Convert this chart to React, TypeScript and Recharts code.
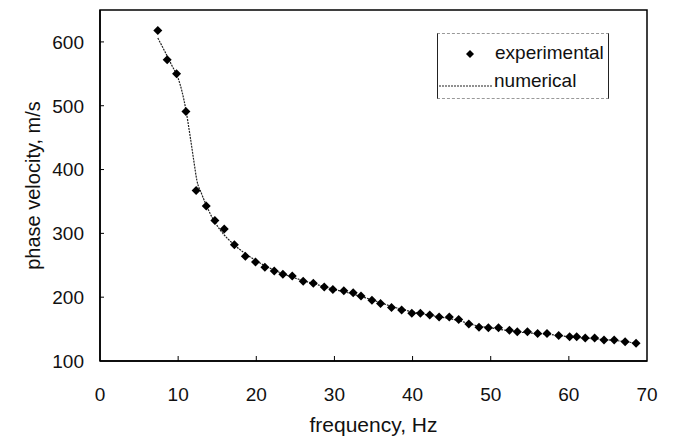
import React from "react";
import {
    ComposedChart,
    Scatter,
    Line,
    XAxis,
    YAxis,
    ReferenceArea,
} from "recharts";

// experimental points
const expFreq = [
    7.4, 8.6, 9.8, 11.0, 12.3, 13.6, 14.7, 15.9, 17.2, 18.6,
    19.9, 21.1, 22.3, 23.4, 24.6, 26.0, 27.3, 28.7, 29.8, 31.2,
    32.4, 33.4, 34.8, 35.9, 37.3, 38.6, 39.9, 41.0, 42.2, 43.4,
    44.7, 45.9, 47.2, 48.5, 49.7, 51.0, 52.4, 53.4, 54.7, 56.0,
    57.2, 58.7, 60.1, 61.0, 62.1, 63.3, 64.5, 65.8, 67.2, 68.6,
];
const expVel = [
    618, 572, 550, 491, 367, 343, 320, 307, 282, 264,
    255, 247, 241, 236, 233, 225, 222, 216, 212, 210,
    207, 202, 195, 190, 184, 180, 175, 175, 172, 169,
    169, 165, 158, 153, 152, 152, 148, 146, 146, 143,
    143, 140, 138, 138, 136, 136, 133, 133, 130, 128,
];

// numerical curve
const numFreq = [
    7.4, 8.3, 9.2, 10.0, 10.5, 11.0, 11.5, 12.0, 12.4, 13.0,
    13.5, 14.3, 15.4, 17.0, 18.4, 20, 22, 24, 26, 28,
    30, 32, 34, 36, 38, 40, 42, 44, 46, 48,
    50, 52, 54, 56, 58, 60, 62, 64, 66, 68.6,
];
const numVel = [
    606, 585, 563, 543, 522, 493, 455, 414, 383, 362,
    347, 326, 305, 284, 270, 257, 244, 234, 226, 219,
    212, 206, 199, 191, 183, 177, 172, 168, 163, 156,
    152, 148, 145, 143, 141, 138, 136, 134, 132, 128,
];

const xTicks = [0, 10, 20, 30, 40, 50, 60, 70];
const yTicks = [100, 200, 300, 400, 500, 600];

const FONT = '"Liberation Sans", Arial, Helvetica, sans-serif';

const expData = expFreq.map((f, i) => ({ f, v: expVel[i] }));
const numData = numFreq.map((f, i) => ({ f, v: numVel[i] }));

const Diamond = (props: any) => {
    const { cx, cy } = props;
    const r = 4.5;
    return (
        <polygon
            points={`${cx},${cy - r} ${cx + r},${cy} ${cx},${cy + r} ${cx - r},${cy}`}
            fill="#000"
        />
    );
};

const X_MARGIN = 33;
const Y_MARGIN = 16;

const XTick = (props: any) => {
    const { x, y, payload } = props;
    const axisY = y - X_MARGIN;
    const edge = payload.value === 0 || payload.value === 70;
    return (
        <g>
            {!edge && <line x1={x} x2={x} y1={axisY} y2={axisY - 5} stroke="#000" />}
            <text x={x} y={y} dy="0.36em" textAnchor="middle" fontSize={19} fontFamily={FONT} fill="#111">
                {payload.value}
            </text>
        </g>
    );
};

const YTick = (props: any) => {
    const { x, y, payload } = props;
    const axisX = x + Y_MARGIN;
    const edge = payload.value === 100;
    return (
        <g>
            {!edge && <line x1={axisX} x2={axisX + 4} y1={y} y2={y} stroke="#000" />}
            <text x={x} y={y} dy="0.36em" textAnchor="end" fontSize={19} fontFamily={FONT} fill="#111">
                {payload.value}
            </text>
        </g>
    );
};

const LegendBox = () => (
    <div
        style={{
            position: "absolute",
            left: 437,
            top: 33,
            width: 172,
            height: 66,
            borderLeft: "1px solid #222",
            borderRight: "1px solid #222",
            borderTop: "1px dashed #999",
            borderBottom: "1px dashed #999",
            fontFamily: FONT,
            fontSize: 19,
            color: "#111",
            boxSizing: "border-box",
        }}
    >
        <svg width={12} height={12} style={{ position: "absolute", left: 26, top: 14 }}>
            <polygon points="6,2 10,6 6,10 2,6" fill="#000" />
        </svg>
        <span style={{ position: "absolute", left: 57, top: 8, lineHeight: "22px" }}>experimental</span>
        <svg width={56} height={4} style={{ position: "absolute", left: 0, top: 50 }}>
            <line x1={1} x2={55} y1={2} y2={2} stroke="#222" strokeWidth={1.2} strokeDasharray="2 1" />
        </svg>
        <span style={{ position: "absolute", left: 56, top: 36, lineHeight: "22px" }}>numerical</span>
    </div>
);

export default function App() {
    return (
        <div style={{ position: "absolute", left: 0, top: 0, width: 674, height: 436, background: "#fff" }}>
            <ComposedChart
                width={674}
                height={436}
                margin={{ top: 10, right: 27, left: 0, bottom: 30 }}
            >
                <XAxis
                    type="number"
                    dataKey="f"
                    domain={[0, 70]}
                    ticks={xTicks}
                    tick={<XTick />}
                    tickSize={0}
                    tickMargin={X_MARGIN}
                    height={45}
                    axisLine={{ stroke: "#000", strokeWidth: 1.5 }}
                    tickLine={false}
                    allowDataOverflow
                    label={{
                        content: (p: any) => {
                            const vb = p.viewBox;
                            return (
                                <text
                                    x={vb.x + vb.width / 2}
                                    y={vb.y + 63}
                                    dy="0.36em"
                                    textAnchor="middle"
                                    fontSize={21}
                                    fontFamily={FONT}
                                    fill="#111"
                                >
                                    frequency, Hz
                                </text>
                            );
                        },
                    }}
                />
                <YAxis
                    type="number"
                    domain={[100, 650]}
                    ticks={yTicks}
                    tick={<YTick />}
                    tickSize={0}
                    tickMargin={Y_MARGIN}
                    width={100}
                    axisLine={{ stroke: "#000", strokeWidth: 1.5 }}
                    tickLine={false}
                    allowDataOverflow
                    label={{
                        content: (p: any) => {
                            const vb = p.viewBox;
                            const cx = vb.x + 33;
                            const cy = vb.y + vb.height / 2;
                            return (
                                <text
                                    x={cx}
                                    y={cy}
                                    dy="0.36em"
                                    textAnchor="middle"
                                    transform={`rotate(-90 ${cx} ${cy})`}
                                    fontSize={20}
                                    fontFamily={FONT}
                                    fill="#111"
                                >
                                    phase velocity, m/s
                                </text>
                            );
                        },
                    }}
                />
                <ReferenceArea
                    x1={0}
                    x2={70}
                    y1={100}
                    y2={650}
                    fill="none"
                    fillOpacity={0}
                    stroke="#000"
                    strokeWidth={1.5}
                    ifOverflow="visible"
                />
                <Line
                    data={numData}
                    dataKey="v"
                    name="numerical"
                    type="monotone"
                    stroke="#222"
                    strokeWidth={1.2}
                    strokeDasharray="2 1"
                    dot={false}
                    activeDot={false}
                    isAnimationActive={false}
                />
                <Scatter
                    data={expData}
                    dataKey="v"
                    name="experimental"
                    shape={<Diamond />}
                    isAnimationActive={false}
                />
            </ComposedChart>
            <LegendBox />
        </div>
    );
}
